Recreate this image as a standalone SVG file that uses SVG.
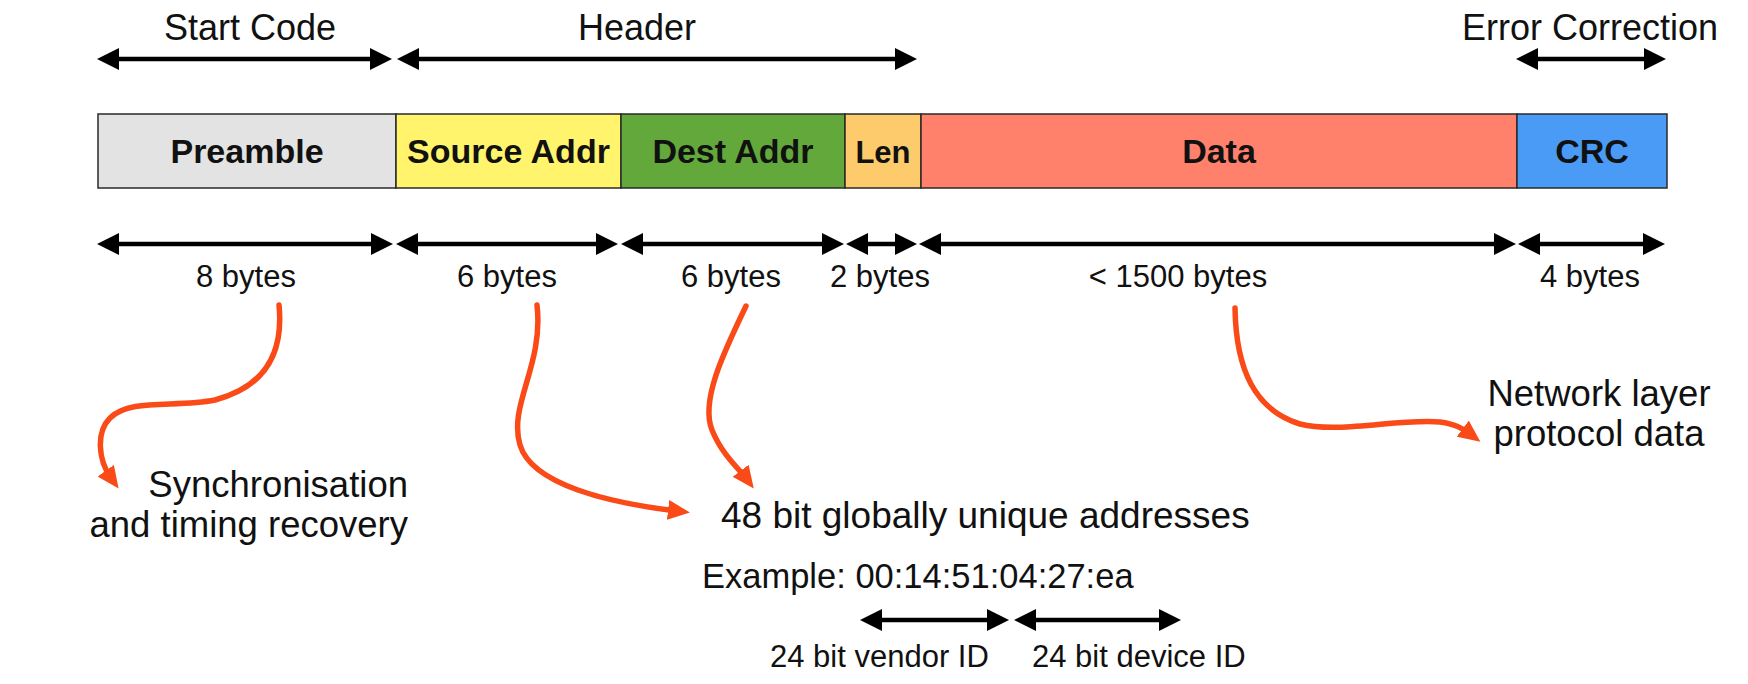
<svg xmlns="http://www.w3.org/2000/svg" width="1748" height="684" viewBox="0 0 1748 684">
<style>
  text { font-family: "Liberation Sans", Arial, Helvetica, sans-serif; fill: #111; }
  .lbl { font-size: 36px; }
  .fld { font-size: 34px; font-weight: bold; text-anchor: middle; }
  .sz { font-size: 31px; text-anchor: middle; }
  .ann { font-size: 36.5px; }
  .seg { stroke: #2a2a2a; stroke-width: 1.5; }
  .dim { fill: none; stroke: #000; stroke-width: 4.5; marker-start: url(#ah); marker-end: url(#ah); }
  .call { fill: none; stroke: #fa4a17; stroke-width: 5.5; stroke-linecap: round; marker-end: url(#rh); }
</style>
<defs>
  <marker id="ah" viewBox="0 0 22 22" refX="12" refY="11" markerWidth="22" markerHeight="22" markerUnits="userSpaceOnUse" orient="auto-start-reverse">
    <polygon points="0,0 22,11 0,22" fill="#000"/>
  </marker>
  <marker id="rh" viewBox="0 0 22 20" refX="9" refY="10" markerWidth="22" markerHeight="20" markerUnits="userSpaceOnUse" orient="auto">
    <polygon points="0,0 22,10 0,20" fill="#fa4a17"/>
  </marker>
</defs>
<rect width="1748" height="684" fill="#fff"/>

<g id="top-labels">
  <text class="lbl" x="250" y="40" text-anchor="middle">Start Code</text>
  <text class="lbl" x="637" y="40" text-anchor="middle">Header</text>
  <text class="lbl" x="1590" y="40" text-anchor="middle">Error Correction</text>
</g>

<g id="preamble"><rect class="seg" x="98" y="114" width="298" height="74" fill="#e3e3e3"/><text class="fld" x="247" y="163">Preamble</text></g>
<g id="source-addr"><rect class="seg" x="396" y="114" width="225" height="74" fill="#fff46b"/><text class="fld" x="508.5" y="163">Source Addr</text></g>
<g id="dest-addr"><rect class="seg" x="621" y="114" width="224" height="74" fill="#62a83b"/><text class="fld" x="733" y="163">Dest Addr</text></g>
<g id="len"><rect class="seg" x="845" y="114" width="76" height="74" fill="#fecb6c"/><text class="fld" x="883" y="163" style="font-size:31px">Len</text></g>
<g id="data"><rect class="seg" x="921" y="114" width="596" height="74" fill="#ff806b"/><text class="fld" x="1219" y="163">Data</text></g>
<g id="crc"><rect class="seg" x="1517" y="114" width="150" height="74" fill="#4a9bf6"/><text class="fld" x="1592" y="163">CRC</text></g>

<g id="sizes">
  <text class="sz" x="246" y="287">8 bytes</text>
  <text class="sz" x="507" y="287">6 bytes</text>
  <text class="sz" x="731" y="287">6 bytes</text>
  <text class="sz" x="880" y="287">2 bytes</text>
  <text class="sz" x="1178" y="287">&lt; 1500 bytes</text>
  <text class="sz" x="1590" y="287">4 bytes</text>
</g>

<g id="sync-note"><text class="ann" text-anchor="end"><tspan x="408" y="497">Synchronisation</tspan><tspan x="408" y="537">and timing recovery</tspan></text></g>
<g id="address-note">
  <text class="ann" x="721" y="528" style="font-size:37px">48 bit globally unique addresses</text>
  <text x="702" y="588" style="font-size:34.5px">Example: 00:14:51:04:27:ea</text>
  <text x="770" y="667" style="font-size:31px">24 bit vendor ID</text>
  <text x="1032" y="667" style="font-size:31px">24 bit device ID</text>
</g>
<g id="network-note"><text class="ann" text-anchor="middle"><tspan x="1599" y="406">Network layer</tspan><tspan x="1599" y="446">protocol data</tspan></text></g>

<g id="connectors">
  <path class="dim" d="M107,59 H382"/>
  <path class="dim" d="M407,59 H907"/>
  <path class="dim" d="M1526,59 H1656"/>
  <path class="dim" d="M107,244 H383"/>
  <path class="dim" d="M406,244 H608"/>
  <path class="dim" d="M631,244 H834"/>
  <path class="dim" d="M856,244 H907"/>
  <path class="dim" d="M929,244 H1506"/>
  <path class="dim" d="M1528,244 H1655"/>
  <path class="dim" d="M870,620 H999"/>
  <path class="dim" d="M1024,620 H1171"/>
  <path class="call" d="M279,305 C283,345 272,385 215,400 C175,408 130,398 110,418 C96,432 98,460 111,478"/>
  <path class="call" d="M537,305 C544,365 508,405 520,445 C532,485 610,503 677,511"/>
  <path class="call" d="M746,306 C725,350 700,400 712,430 C722,455 740,470 746,478"/>
  <path class="call" d="M1235,308 C1236,370 1255,410 1300,424 C1340,434 1400,418 1440,422 C1455,424 1462,428 1470,434"/>
</g>
</svg>
